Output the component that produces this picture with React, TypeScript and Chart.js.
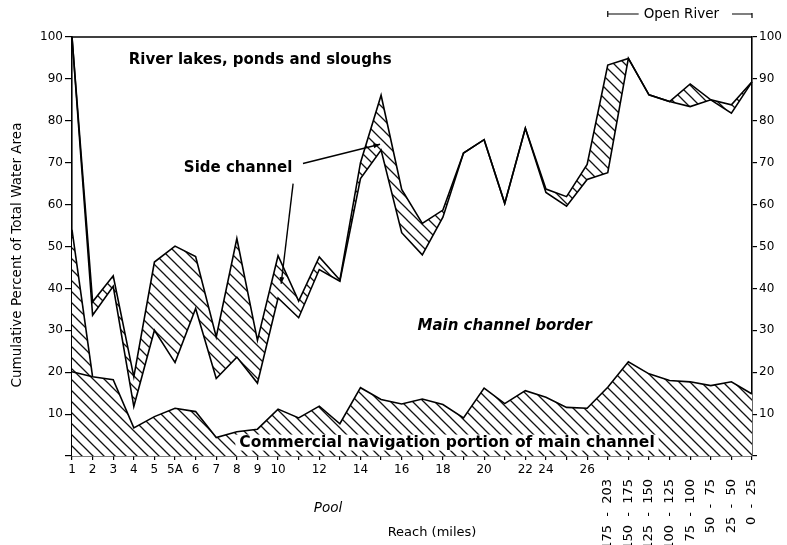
import React, { useEffect, useRef } from 'react';
import { Chart, registerables } from 'chart.js';

Chart.register(...registerables);

// ---- categories ----
const pools = ['1', '2', '3', '4', '5', '5A', '6', '7', '8', '9', '10', '11', '12', '13', '14', '15', '16', '17', '18', '19', '20', '21', '22', '24', '25', '26'];
const reaches = ['175 - 203', '150 - 175', '125 - 150', '100 - 125', '75 - 100', '50 - 75', '25 - 50', '0 - 25'];
const categories = [...pools, ...reaches];
const labeledPools = ['1', '2', '3', '4', '5', '5A', '6', '7', '8', '9', '10', '12', '14', '16', '18', '20', '22', '24', '26'];

// ---- cumulative boundaries (percent of total water area) ----
// top of commercial navigation portion of main channel
const navigationTop = [20.1, 18.9, 18.2, 6.7, 9.4, 11.4, 10.6, 4.4, 5.8, 6.4, 11.2, 9.1, 11.9, 7.7, 16.3, 13.5, 12.4, 13.6, 12.3, 9.1, 16.2, 12.5, 15.6, 14.0, 11.6, 11.4, 16.4, 22.5, 19.6, 18.0, 17.7, 16.8, 17.7, 14.8];
// side channel wedge at pool 1
const pool1SideChannelTop = [54, 18.9, null, null, null, null, null, null, null, null, null, null, null, null, null, null, null, null, null, null, null, null, null, null, null, null, null, null, null, null, null, null, null, null];
// top of main channel border
const mainBorderTop = [100, 33.6, 40.5, 11.8, 30.0, 22.3, 35.2, 18.5, 23.6, 17.4, 37.7, 33.0, 44.5, 41.7, 66.2, 73.0, 53.3, 48.0, 57.0, 72.3, 75.5, 60.3, 78.2, 62.9, 59.6, 66.0, 67.6, 94.9, 86.2, 84.6, 83.4, 85.0, 81.8, 89.3];
// top of side channel
const sideChannelTop = [100, 36.8, 43.0, 18.9, 46.3, 50.1, 47.6, 28.4, 51.9, 27.6, 47.8, 37.0, 47.5, 42.0, 70.0, 86.1, 63.6, 55.5, 58.7, 72.3, 75.5, 60.3, 78.2, 63.7, 61.9, 69.6, 93.3, 94.9, 86.2, 84.6, 88.8, 85.0, 83.8, 89.3];

// ---- annotations in data coordinates [categoryIndex, value] ----
const annoRiverLakes = { text: 'River lakes, ponds and sloughs', at: [9.13, 94.5] };
const annoSideChannel = { text: 'Side channel', at: [8.06, 68.7] };
const annoBorder = { text: 'Main channel border', at: [21.0, 31.1] };
const annoNav = { text: 'Commercial navigation portion of main channel', at: [18.2, 3.2] };
const sideArrows = [
  { from: [11.21, 69.8], to: [14.95, 74.4] },
  { from: [10.73, 65.0], to: [10.15, 41.1] },
];
const openRiverSpan = [26, 33];

const FONT = '"DejaVu Sans", "Liberation Sans", sans-serif';

function makeHatch(size: number, lw: number): CanvasPattern | string {
  const c = document.createElement('canvas');
  c.width = size;
  c.height = size;
  const g = c.getContext('2d');
  if (!g) return '#fff';
  g.fillStyle = '#fff';
  g.fillRect(0, 0, size, size);
  g.strokeStyle = '#111';
  g.lineWidth = lw;
  g.beginPath();
  g.moveTo(-1, -1);
  g.lineTo(size + 1, size + 1);
  g.moveTo(-2, size - 2);
  g.lineTo(2, size + 2);
  g.moveTo(size - 2, -2);
  g.lineTo(size + 2, 2);
  g.stroke();
  const p = g.createPattern(c, 'repeat');
  return p || '#fff';
}

const overlayPlugin = {
  id: 'overlay',
  afterDraw(chart: any) {
    const { ctx, chartArea: ca, scales } = chart;
    const xs = scales.x;
    const ys = scales.y;
    const px = (i: number) => xs.getPixelForValue(i);
    const py = (v: number) => ys.getPixelForValue(v);
    ctx.save();
    ctx.strokeStyle = '#000';
    ctx.fillStyle = '#000';

    // top frame
    ctx.lineWidth = 1.6;
    ctx.beginPath();
    ctx.moveTo(ca.left, ca.top);
    ctx.lineTo(ca.right, ca.top);
    ctx.stroke();

    // pool tick labels
    ctx.font = `12px ${FONT}`;
    ctx.textAlign = 'center';
    ctx.textBaseline = 'top';
    pools.forEach((p, i) => {
      if (labeledPools.includes(p)) ctx.fillText(p, px(i), ca.bottom + 8);
    });

    // reach tick labels (rotated)
    ctx.font = `13px ${FONT}`;
    reaches.forEach((r, k) => {
      const i = pools.length + k;
      ctx.save();
      ctx.translate(px(i), ca.bottom + 23);
      ctx.rotate(-Math.PI / 2);
      ctx.textAlign = 'right';
      ctx.textBaseline = 'middle';
      ctx.fillText(r.replace(' - ', '  -  '), 0, 0);
      ctx.restore();
    });

    // axis titles
    ctx.font = `italic 13.5px ${FONT}`;
    ctx.textAlign = 'center';
    ctx.textBaseline = 'middle';
    ctx.fillText('Pool', ca.left + 256, ca.bottom + 52);
    ctx.font = `13px ${FONT}`;
    ctx.fillText('Reach (miles)', ca.left + 360, ca.bottom + 77);
    ctx.save();
    ctx.translate(17, 255);
    ctx.rotate(-Math.PI / 2);
    ctx.font = `13.5px ${FONT}`;
    ctx.fillText('Cumulative Percent of Total Water Area', 0, 0);
    ctx.restore();

    // region annotations
    ctx.textAlign = 'center';
    ctx.textBaseline = 'middle';
    ctx.font = `bold 15px ${FONT}`;
    ctx.fillText(annoRiverLakes.text, px(annoRiverLakes.at[0]), py(annoRiverLakes.at[1]));
    ctx.fillText(annoSideChannel.text, px(annoSideChannel.at[0]), py(annoSideChannel.at[1]));
    ctx.font = `italic bold 15px ${FONT}`;
    ctx.fillText(annoBorder.text, px(annoBorder.at[0]), py(annoBorder.at[1]));

    ctx.font = `bold 15.5px ${FONT}`;
    const nx = px(annoNav.at[0]);
    const ny = py(annoNav.at[1]);
    const w = ctx.measureText(annoNav.text).width;
    ctx.fillStyle = '#fff';
    ctx.fillRect(nx - w / 2 - 4, ny - 8, w + 8, 16);
    ctx.fillStyle = '#000';
    ctx.fillText(annoNav.text, nx, ny);

    // side channel arrows
    ctx.lineWidth = 1.4;
    sideArrows.forEach((a) => {
      const x1 = px(a.from[0]);
      const y1 = py(a.from[1]);
      const x2 = px(a.to[0]);
      const y2 = py(a.to[1]);
      ctx.beginPath();
      ctx.moveTo(x1, y1);
      ctx.lineTo(x2, y2);
      ctx.stroke();
      const ang = Math.atan2(y2 - y1, x2 - x1);
      const L = 7;
      ctx.beginPath();
      ctx.moveTo(x2, y2);
      ctx.lineTo(x2 - L * Math.cos(ang - 0.35), y2 - L * Math.sin(ang - 0.35));
      ctx.lineTo(x2 - L * Math.cos(ang + 0.35), y2 - L * Math.sin(ang + 0.35));
      ctx.closePath();
      ctx.fill();
    });

    // Open River span
    const ox1 = px(openRiverSpan[0]);
    const ox2 = px(openRiverSpan[1]);
    const oy = 14;
    ctx.font = `13.5px ${FONT}`;
    const label = 'Open River';
    const tw = ctx.measureText(label).width;
    const mid = ox1 + (ox2 - ox1) * 0.51;
    ctx.lineWidth = 1.2;
    ctx.beginPath();
    ctx.moveTo(ox1, oy);
    ctx.lineTo(mid - tw / 2 - 5, oy);
    ctx.moveTo(mid + tw / 2 + 13, oy);
    ctx.lineTo(ox2, oy);
    ctx.moveTo(ox1, oy - 3);
    ctx.lineTo(ox1, oy + 3);
    ctx.moveTo(ox2, oy - 1);
    ctx.lineTo(ox2, oy + 4);
    ctx.stroke();
    ctx.textAlign = 'center';
    ctx.textBaseline = 'middle';
    ctx.fillText(label, mid, oy);

    ctx.restore();
  },
};

export default function App() {
  const canvasRef = useRef<HTMLCanvasElement | null>(null);

  useEffect(() => {
    document.body.style.margin = '0';
    const canvas = canvasRef.current;
    if (!canvas) return;
    const hatchA = makeHatch(11, 1.3);
    const hatchB = makeHatch(11, 1.3);

    const lineBase = {
      borderColor: '#000',
      borderWidth: 1.6,
      pointRadius: 0,
      tension: 0,
    };

    const chart = new Chart(canvas, {
      type: 'line',
      data: {
        labels: categories,
        datasets: [
          { ...lineBase, label: 'Commercial navigation portion of main channel', data: navigationTop, fill: 'origin', backgroundColor: hatchA as any },
          { ...lineBase, label: 'Side channel (pool 1)', data: pool1SideChannelTop, fill: 0, backgroundColor: hatchB as any, spanGaps: false },
          { ...lineBase, label: 'Main channel border', data: mainBorderTop, fill: false },
          { ...lineBase, label: 'Side channel', data: sideChannelTop, fill: 2, backgroundColor: hatchB as any },
        ],
      },
      options: {
        animation: false,
        responsive: false,
        maintainAspectRatio: false,
        devicePixelRatio: 1,
        layout: { padding: { top: 37, left: 0, right: 0, bottom: 0 } },
        plugins: {
          legend: { display: false },
          tooltip: { enabled: false },
        },
        scales: {
          x: {
            type: 'category',
            offset: false,
            grid: { display: true, drawOnChartArea: false, drawTicks: true, tickLength: 4, color: '#000', lineWidth: 1.2 },
            border: { display: true, color: '#000', width: 1.6 },
            ticks: { display: false, autoSkip: false },
            afterFit: (s: any) => { s.height = 89; },
          },
          y: {
            position: 'left',
            min: 0,
            max: 100,
            ticks: {
              stepSize: 10,
              color: '#000',
              padding: 2,
              font: { family: FONT, size: 12 },
              callback: (v: any) => (v === 0 ? '' : String(v)),
            },
            grid: { display: true, drawOnChartArea: false, drawTicks: true, tickLength: 7, color: '#000', lineWidth: 1.2 },
            border: { display: true, color: '#000', width: 1.6 },
            afterFit: (s: any) => { s.width = 72; },
          },
          y2: {
            position: 'right',
            min: 0,
            max: 100,
            ticks: {
              stepSize: 10,
              color: '#000',
              padding: 2,
              font: { family: FONT, size: 12 },
              callback: (v: any) => (v === 0 ? '' : String(v)),
            },
            grid: { display: true, drawOnChartArea: false, drawTicks: true, tickLength: 5, color: '#000', lineWidth: 1.2 },
            border: { display: true, color: '#000', width: 1.6 },
            afterFit: (s: any) => { s.width = 35; },
          },
        },
      } as any,
      plugins: [overlayPlugin],
    });

    return () => {
      chart.destroy();
    };
  }, []);

  return (
    <div style={{ position: 'absolute', left: 0, top: 0, width: 787, height: 545, background: '#fff' }}>
      <canvas ref={canvasRef} width={787} height={545} style={{ display: 'block' }} />
    </div>
  );
}
